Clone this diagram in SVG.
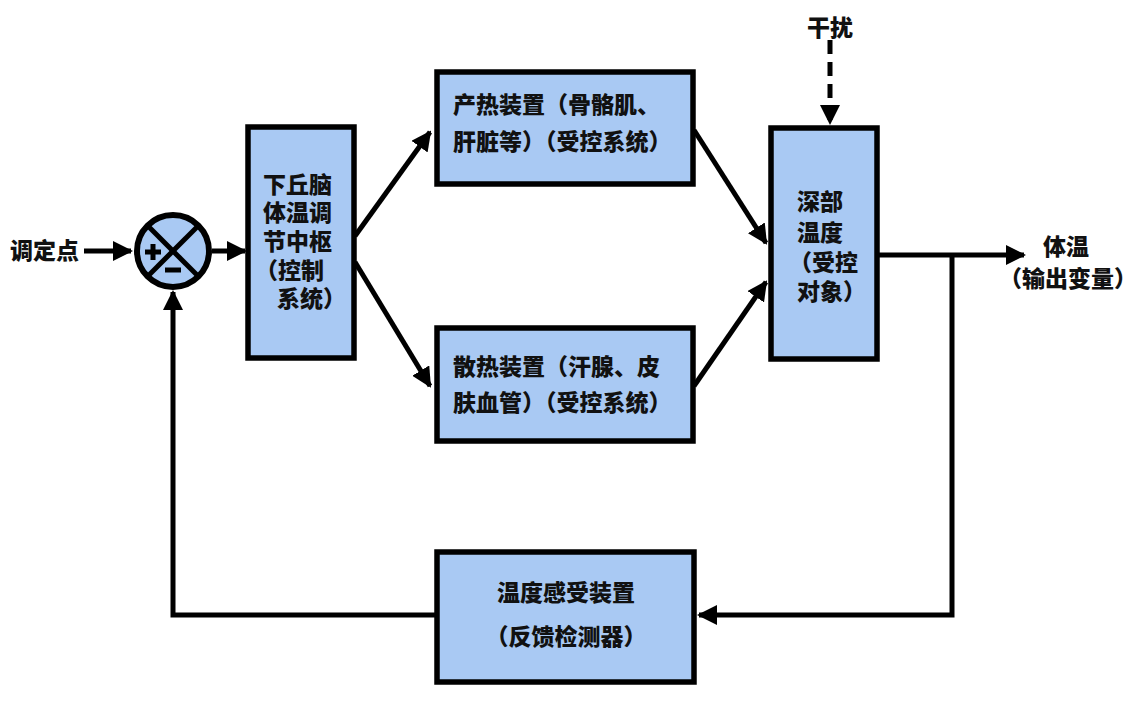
<svg xmlns="http://www.w3.org/2000/svg" width="1140" height="711" viewBox="0 0 1140 711">
<defs>
<style>
.box{fill:#A9C9F3;stroke:#000;stroke-width:5.5}
.t{font-family:"Noto Sans CJK SC","Noto Sans",sans-serif;font-weight:900;font-size:23px;fill:#111}
.ln{stroke:#000;stroke-width:5;fill:none}
</style>
<marker id="ah" viewBox="0 0 10 10" refX="9" refY="5" markerWidth="4" markerHeight="4" orient="auto" markerUnits="strokeWidth">
<path d="M0,0 L10,5 L0,10 z" fill="#000"/>
</marker>
</defs>
<rect width="1140" height="711" fill="#fff"/>
<g id="connectors">
<line class="ln" x1="84" y1="251" x2="131" y2="251" marker-end="url(#ah)"/>
<line class="ln" x1="212" y1="251" x2="245" y2="251" marker-end="url(#ah)"/>
<line class="ln" x1="355" y1="236" x2="430" y2="132" marker-end="url(#ah)"/>
<line class="ln" x1="355" y1="262" x2="430" y2="386" marker-end="url(#ah)"/>
<line class="ln" x1="694" y1="130" x2="766" y2="243" marker-end="url(#ah)"/>
<line class="ln" x1="694" y1="386" x2="766" y2="282" marker-end="url(#ah)"/>
<line class="ln" x1="830" y1="40" x2="830" y2="123" stroke-dasharray="14,8" marker-end="url(#ah)"/>
<line class="ln" x1="878" y1="255" x2="1024" y2="255" marker-end="url(#ah)"/>
<polyline class="ln" points="952,255 952,615 699,615" marker-end="url(#ah)"/>
<polyline class="ln" points="437,615 173,615 173,292" marker-end="url(#ah)"/>
</g>
<g id="setpoint"><text class="t" x="10" y="259">调定点</text></g>
<g id="sum">
<circle cx="173" cy="251" r="36" fill="#A9C9F3" stroke="#000" stroke-width="6"/>
<line x1="148" y1="226" x2="198" y2="276" stroke="#000" stroke-width="5"/>
<line x1="198" y1="226" x2="148" y2="276" stroke="#000" stroke-width="5"/>
<path d="M145,252 h16 M153,244 v16" stroke="#000" stroke-width="5"/>
<path d="M165,270 h16" stroke="#000" stroke-width="5"/>
</g>
<g id="controller">
<rect class="box" x="248" y="127" width="106" height="231"/>
<text class="t" x="263" y="193">下丘脑</text>
<text class="t" x="263" y="221">体温调</text>
<text class="t" x="263" y="250">节中枢</text>
<text class="t" x="255" y="279">（控制</text>
<text class="t" x="277" y="307">系统）</text>
</g>
<g id="heat-gen">
<rect class="box" x="437" y="72" width="256" height="112"/>
<text class="t" x="453" y="113">产热装置（骨骼肌、</text>
<text class="t" x="453" y="150">肝脏等）（受控系统）</text>
</g>
<g id="heat-loss">
<rect class="box" x="437" y="328" width="256" height="113"/>
<text class="t" x="453" y="375">散热装置（汗腺、皮</text>
<text class="t" x="453" y="411">肤血管）（受控系统）</text>
</g>
<g id="disturbance"><text class="t" x="830" y="36" text-anchor="middle">干扰</text></g>
<g id="plant">
<rect class="box" x="771" y="128" width="106" height="231"/>
<text class="t" x="797" y="210">深部</text>
<text class="t" x="797" y="241">温度</text>
<text class="t" x="789" y="271">（受控</text>
<text class="t" x="797" y="300">对象）</text>
</g>
<g id="output">
<text class="t" x="1066" y="255" text-anchor="middle">体温</text>
<text class="t" x="1068" y="287" text-anchor="middle">（输出变量）</text>
</g>
<g id="sensor">
<rect class="box" x="437" y="552" width="257" height="130"/>
<text class="t" x="566" y="601" text-anchor="middle">温度感受装置</text>
<text class="t" x="566" y="645" text-anchor="middle">（反馈检测器）</text>
</g>
</svg>
